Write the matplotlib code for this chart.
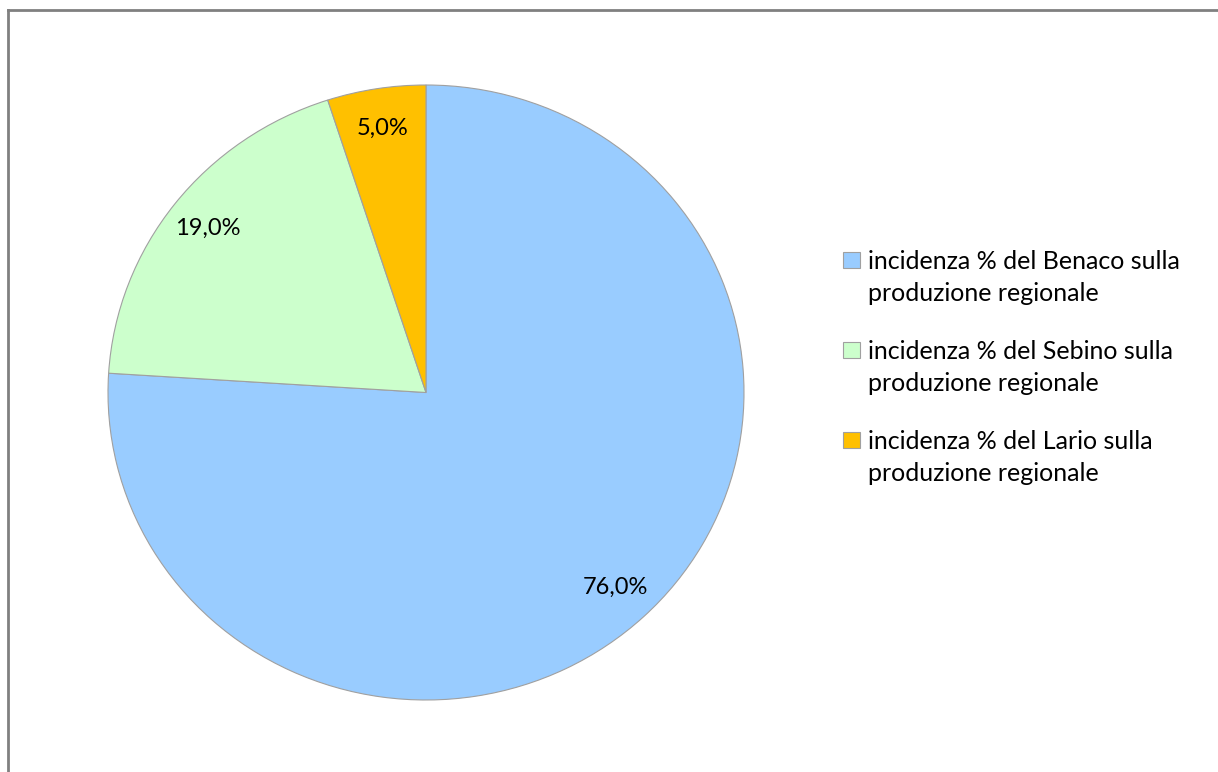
import matplotlib.pyplot as plt
from matplotlib.lines import Line2D
from matplotlib.patches import Rectangle
from matplotlib.legend_handler import HandlerPatch

labels = [
    "incidenza % del Benaco sulla\nproduzione regionale",
    "incidenza % del Sebino sulla\nproduzione regionale",
    "incidenza % del Lario sulla\nproduzione regionale",
]
values = [76.0, 19.0, 5.0]
colors = ["#99CCFF", "#CCFFCC", "#FFC000"]

plt.rcParams["font.family"] = ["Lato", "DejaVu Sans"]

fig = plt.figure(figsize=(12.18, 7.72), dpi=100)

# pie axes placed so the ellipse matches the reference
ax = fig.add_axes([108 / 1218, 72 / 772, 636 / 1218, 615 / 772])
wedges, texts, autotexts = ax.pie(
    values,
    colors=colors,
    startangle=90,
    counterclock=False,
    autopct=lambda p: f"{p:.1f}%".replace(".", ","),
    pctdistance=0.87,
    wedgeprops=dict(edgecolor="#A0A0A0", linewidth=0.8),
    textprops=dict(fontsize=17, color="#000000"),
)
ax.set_aspect("auto")
ax.set_xlim(-1, 1)
ax.set_ylim(-1, 1)
ax.axis("off")


# legend square sits on the first line of the two-line label
def top_square(legend, orig_handle, xdescent, ydescent, width, height, fontsize):
    return Rectangle((-xdescent, -ydescent + 13), width, height)


leg = fig.legend(
    wedges, labels,
    loc="upper left",
    bbox_to_anchor=(843 / 1218, 1 - 250 / 772),
    frameon=False,
    fontsize=18,
    handlelength=0.68,
    handleheight=0.56,
    handletextpad=0.32,
    labelspacing=1.4,
    borderpad=0,
    borderaxespad=0,
    handler_map={w: HandlerPatch(patch_func=top_square) for w in wedges},
)
for t in leg.get_texts():
    t.set_linespacing(1.47)

# chart border (top and left visible)
fig.add_artist(Line2D([8 / 1218, 1.0], [1 - 9.5 / 772, 1 - 9.5 / 772],
                      transform=fig.transFigure, color="#808080", linewidth=2))
fig.add_artist(Line2D([8 / 1218, 8 / 1218], [0, 1 - 9.5 / 772],
                      transform=fig.transFigure, color="#808080", linewidth=2))

fig.savefig("out.png", dpi=100)
